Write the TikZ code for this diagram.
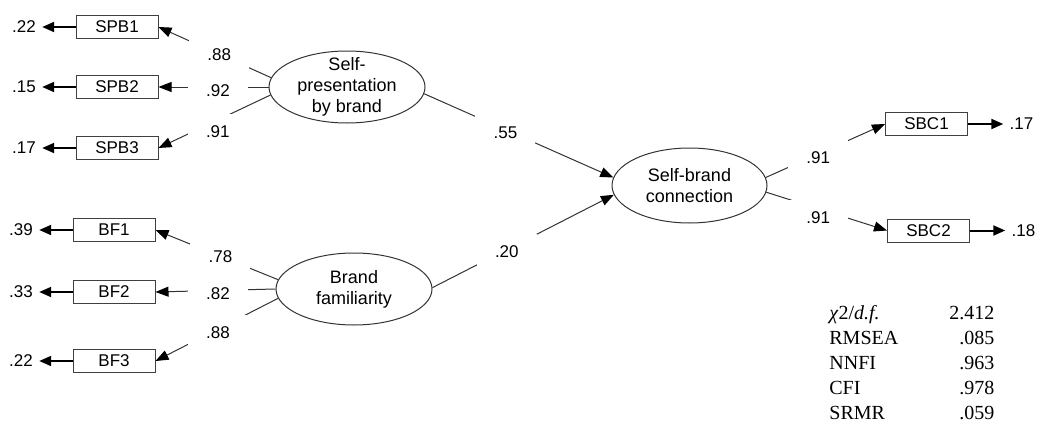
\documentclass[tikz,border=0pt]{standalone}
\usepackage{fontspec}
\setmainfont{Liberation Sans}
\newfontfamily\tabfont{Liberation Serif}
\usetikzlibrary{arrows.meta,positioning,shapes.geometric}

\tikzset{
  latent/.style={ellipse, draw=black!80, line width=0.5pt, minimum width=78pt,
    minimum height=36pt, align=center, inner xsep=0pt, inner ysep=-6pt,
    font=\fontsize{9}{10.5}\selectfont},
  obs/.style={rectangle, draw=black!75, line width=0.5pt, minimum width=41pt,
    minimum height=11.5pt, inner sep=0pt, font=\fontsize{8.5}{10}\selectfont},
  err/.style={inner sep=3pt, font=\fontsize{8.5}{10}\selectfont},
  coef/.style={fill=white, minimum width=30pt, minimum height=18pt, inner sep=0pt,
    font=\fontsize{8.5}{10}\selectfont},
  loading/.style={line width=0.5pt, -{Triangle[length=6.5pt,width=5pt,color=black]},
    every edge/.style={draw=black!80}},
  errarr/.style={line width=1pt, -{Triangle[length=6pt,width=5pt]}}
}

\begin{document}
\begin{tikzpicture}[x=0.5pt, y=-0.5pt, node distance=46.5pt, on grid]
\useasboundingbox (0,0) rectangle (1039,423);

% latent variables
\node[latent] (SPB) at (347,87) {Self-\\presentation\\by brand};
\node[latent] (BF) at (354,289) {Brand\\familiarity};
\node[latent, minimum width=77.5pt, minimum height=37.5pt] (SBC) at (689.5,185.5) {Self-brand\\connection};

% indicators
\node[obs] [left=115pt of SPB] (SPB2) {SPB2};
\node[obs] [above=30pt of SPB2] (SPB1) {SPB1};
\node[obs] [below=30.5pt of SPB2] (SPB3) {SPB3};
\node[obs] [below left=1.5pt and 120pt of BF] (BF2) {BF2};
\node[obs] [above=31pt of BF2] (BF1) {BF1};
\node[obs] [below=34.5pt of BF2] (BF3) {BF3};
\node[obs] [above right=30.75pt and 118.5pt of SBC] (SBC1) {SBC1};
\node[obs] [below right=22.5pt and 119.5pt of SBC] (SBC2) {SBC2};

% error variances
\node[err] [left=of SPB1] (eSPB1) {.22};
\node[err] [left=of SPB2] (eSPB2) {.15};
\node[err] [left=of SPB3] (eSPB3) {.17};
\node[err] [left=of BF1] (eBF1) {.39};
\node[err] [left=of BF2] (eBF2) {.33};
\node[err] [left=of BF3] (eBF3) {.22};
\node[err] [right=47.5pt of SBC1] (eSBC1) {.17};
\node[err] [right=47.5pt of SBC2] (eSBC2) {.18};

\path[errarr]
  (SPB1) edge (eSPB1)
  (SPB2) edge (eSPB2)
  (SPB3) edge (eSPB3)
  (BF1) edge (eBF1)
  (BF2) edge (eBF2)
  (BF3) edge (eBF3)
  (SBC1) edge (eSBC1)
  (SBC2) edge (eSBC2);

% loadings and paths
\path[loading]
  (SPB.173) edge node[coef, pos=.46] {.88} (SPB1.east)
  (SPB.180) edge node[coef, pos=.46, yshift=-2pt] {.92} (SPB2.east)
  (SPB.186) edge node[coef, pos=.47, yshift=-6pt] {.91} (SPB3.east)
  (BF.173) edge node[coef, pos=.47] {.78} (BF1.east)
  (BF.180) edge node[coef, pos=.48, yshift=-1.5pt] {.82} (BF2.east)
  (BF.187) edge node[coef, pos=.49, yshift=-2pt] {.88} (BF3.east)
  (SPB.355) edge node[coef, pos=.43, yshift=-1.5pt] {.55} (SBC.174)
  (BF.1) edge node[coef, pos=.41, yshift=-1pt] {.20} (SBC.187)
  (SBC.6) edge node[coef, pos=.44, yshift=-1.75pt] {.91} (SBC1.west)
  (SBC.355) edge node[coef, pos=.43, yshift=-4.5pt] {.91} (SBC2.west);

% fit indices
\node[anchor=base west, inner sep=0pt, font=\tabfont\fontsize{10}{12.5}\selectfont]
  (fitstats) at (829,319.5) {%
  \begin{tabular*}{82.5pt}[t]{@{}l@{\extracolsep{\fill}}r@{}}
  \textit{χ}2/\textit{d.f.} & 2.412\\
  RMSEA & .085\\
  NNFI & .963\\
  CFI & .978\\
  SRMR & .059
  \end{tabular*}};
\end{tikzpicture}
\end{document}
